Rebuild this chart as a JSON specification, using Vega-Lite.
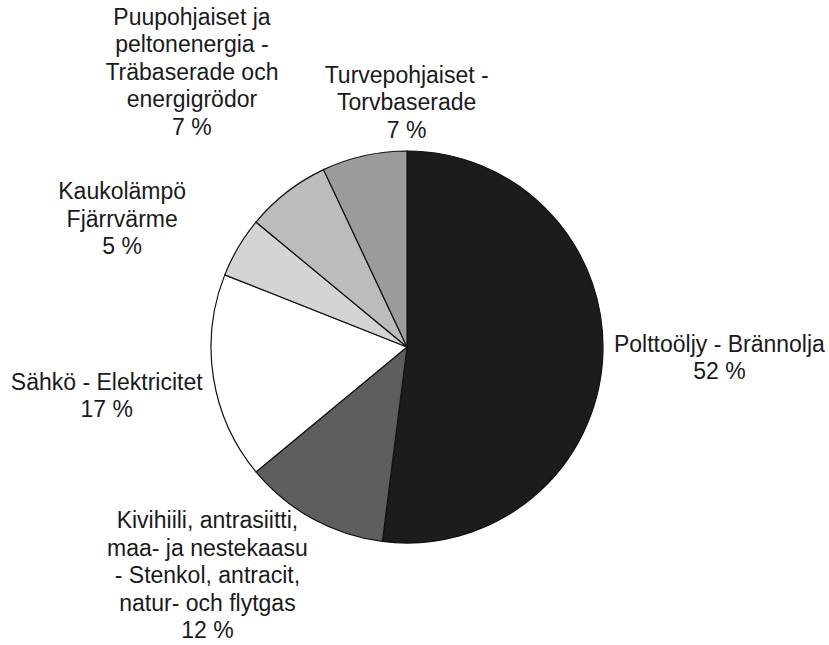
{
  "$schema": "https://vega.github.io/schema/vega-lite/v6.json",
  "autosize": "none",
  "width": 814,
  "height": 594,
  "padding": {"left": 0, "top": 50, "right": 15, "bottom": 1},
  "background": "white",
  "config": {"view": {"stroke": null}},
  "data": {
    "values": [
      {"key": "oil", "order": 1, "value": 52, "label": "Polttoöljy - Brännolja\n52 %"},
      {"key": "coal", "order": 2, "value": 12, "label": "Kivihiili, antrasiitti,\nmaa- ja nestekaasu\n- Stenkol, antracit,\nnatur- och flytgas\n12 %"},
      {"key": "elec", "order": 3, "value": 17, "label": "Sähkö - Elektricitet\n17 %"},
      {"key": "dist", "order": 4, "value": 5, "label": "Kaukolämpö\nFjärrvärme\n5 %"},
      {"key": "wood", "order": 5, "value": 7, "label": "Puupohjaiset ja\npeltonenergia  -\nTräbaserade och\nenergigrödor\n7 %"},
      {"key": "peat", "order": 6, "value": 7, "label": "Turvepohjaiset -\nTorvbaserade\n7 %"}
    ]
  },
  "encoding": {
    "theta": {"field": "value", "type": "quantitative", "stack": true},
    "order": {"field": "order", "type": "quantitative"}
  },
  "layer": [
    {
      "mark": {"type": "arc", "outerRadius": 196, "stroke": "#111111", "strokeWidth": 1.2},
      "encoding": {
        "color": {
          "field": "key",
          "type": "nominal",
          "legend": null,
          "scale": {
            "domain": ["oil", "coal", "elec", "dist", "wood", "peat"],
            "range": ["#1c1c1c", "#5e5e5e", "#ffffff", "#d4d4d4", "#bcbcbc", "#9c9c9c"]
          }
        }
      }
    },
    {
      "mark": {
        "type": "text",
        "font": "Liberation Sans",
        "fontSize": 23,
        "lineHeight": 27.5,
        "lineBreak": "\n",
        "align": "center",
        "baseline": "middle",
        "color": "#1a1a1a",
        "radius": {"expr": "datum.key == 'oil' ? 313 : datum.key == 'coal' ? 215 : datum.key == 'elec' ? 304 : datum.key == 'dist' ? 310 : datum.key == 'wood' ? 346 : 249"},
        "dx": {"expr": "datum.key == 'oil' ? 0 : datum.key == 'coal' ? -96 : datum.key == 'elec' ? 0 : datum.key == 'dist' ? -18 : datum.key == 'wood' ? -3 : 54"},
        "dy": {"expr": "datum.key == 'oil' ? -22 : datum.key == 'coal' ? -14 : datum.key == 'elec' ? -12 : datum.key == 'dist' ? 3 : datum.key == 'wood' ? -56 : -28"}
      },
      "encoding": {
        "text": {"field": "label", "type": "nominal"}
      }
    }
  ]
}
